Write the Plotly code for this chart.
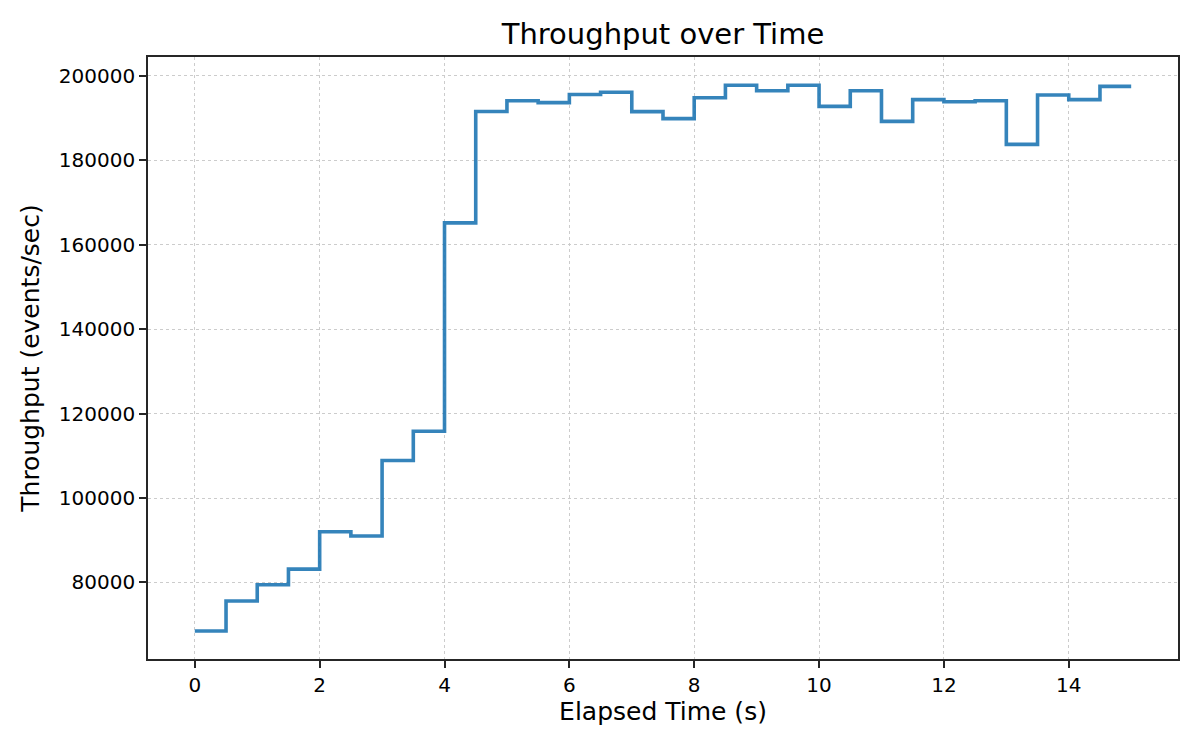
import plotly.graph_objects as go

# Elapsed time (s) and throughput (events/sec), step line drawn "post"
elapsed_time = [0.0, 0.5, 1.0, 1.5, 2.0, 2.5, 3.0, 3.5, 4.0, 4.5,
                5.0, 5.5, 6.0, 6.5, 7.0, 7.5, 8.0, 8.5, 9.0, 9.5,
                10.0, 10.5, 11.0, 11.5, 12.0, 12.5, 13.0, 13.5, 14.0, 14.5, 15.0]
throughput = [68500, 75600, 79450, 83150, 92000, 91000, 108900, 115800, 165200, 191600,
              194150, 193700, 195600, 196150, 191550, 189900, 194850, 197800, 196500, 197800,
              192800, 196500, 189250, 194400, 193900, 194150, 183800, 195500, 194400, 197550, 197550]

x_ticks = [0, 2, 4, 6, 8, 10, 12, 14]
y_ticks = [80000, 100000, 120000, 140000, 160000, 180000, 200000]

FONT = "DejaVu Sans"
AX = "#262626"

fig = go.Figure()
fig.add_trace(go.Scatter(
    x=elapsed_time, y=throughput, mode="lines", line_shape="hv",
    line=dict(color="rgba(31,119,180,0.9)", width=3.6),
    showlegend=False, hoverinfo="x+y",
))

axis_common = dict(
    showline=True, linecolor=AX, linewidth=1.6, mirror=True,
    ticks="outside", ticklen=7, tickwidth=1.6, tickcolor=AX,
    showgrid=True, gridcolor="#cccccc", gridwidth=1, griddash="dot",
    zeroline=False, automargin=False,
    tickfont=dict(family=FONT, size=20, color="black"),
)

fig.update_layout(
    width=1200, height=750,
    paper_bgcolor="white", plot_bgcolor="white",
    margin=dict(l=148, r=22, t=57, b=91),
    font=dict(family=FONT, color="black"),
    title=dict(text="Throughput over Time", x=0.5525, xanchor="center",
               yref="container", y=1 - 33.5 / 750, yanchor="middle",
               font=dict(family=FONT, size=29, color="black")),
    xaxis=dict(range=[-0.75, 15.75], tickvals=x_ticks, tickformat="d",
               title=dict(text="Elapsed Time (s)", font=dict(family=FONT, size=25), standoff=7),
               **axis_common),
    yaxis=dict(range=[61850, 204500], tickvals=y_ticks, tickformat="d",
               title=dict(text="Throughput (events/sec)", font=dict(family=FONT, size=25), standoff=12),
               **axis_common),
)

fig.write_html("out.html", config={"displayModeBar": False},
               post_script="document.body.style.margin='0';document.body.style.padding='0';")
